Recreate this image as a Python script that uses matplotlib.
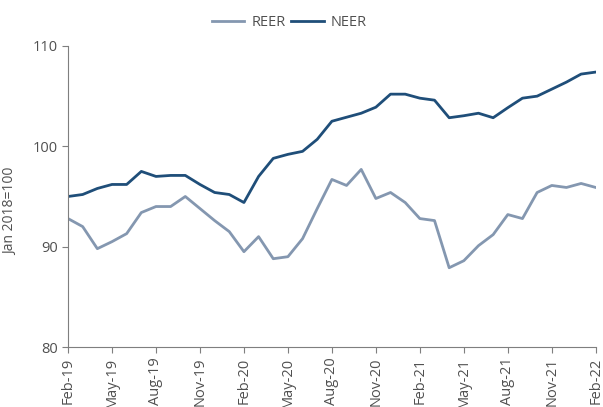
import matplotlib.pyplot as plt
import numpy as np

months = ["Feb-19", "Mar-19", "Apr-19", "May-19", "Jun-19", "Jul-19", "Aug-19", "Sep-19",
          "Oct-19", "Nov-19", "Dec-19", "Jan-20", "Feb-20", "Mar-20", "Apr-20", "May-20",
          "Jun-20", "Jul-20", "Aug-20", "Sep-20", "Oct-20", "Nov-20", "Dec-20", "Jan-21",
          "Feb-21", "Mar-21", "Apr-21", "May-21", "Jun-21", "Jul-21", "Aug-21", "Sep-21",
          "Oct-21", "Nov-21", "Dec-21", "Jan-22", "Feb-22"]
reer = [92.8, 92.0, 89.8, 90.5, 91.3, 93.4, 94.0, 94.0, 95.0, 93.8, 92.6, 91.5, 89.5,
        91.0, 88.8, 89.0, 90.8, 93.8, 96.7, 96.1, 97.7, 94.8, 95.4, 94.4, 92.8, 92.6,
        87.9, 88.6, 90.1, 91.2, 93.2, 92.8, 95.4, 96.1, 95.9, 96.3, 95.9]
neer = [95.0, 95.2, 95.8, 96.2, 96.2, 97.5, 97.0, 97.1, 97.1, 96.2, 95.4, 95.2, 94.4,
        97.0, 98.8, 99.2, 99.5, 100.7, 102.5, 102.9, 103.3, 103.9, 105.2, 105.2, 104.8,
        104.6, 102.85, 103.05, 103.3, 102.85, 103.85, 104.8, 105.0, 105.7, 106.4, 107.2, 107.4]

plt.rcParams['font.family'] = ['Open Sans', 'DejaVu Sans']
txt = "#505050"

fig = plt.figure(figsize=(6.03, 4.07), dpi=100)
ax = fig.add_axes([0.1128, 0.1474, 0.8752, 0.7396])

x = np.arange(len(months))
ax.plot(x, reer, color="#8497b0", lw=2.0, label="REER")
ax.plot(x, neer, color="#1f4e79", lw=2.0, label="NEER")

ax.set_xlim(0, len(months) - 1)
ax.set_ylim(80, 110)
ax.set_yticks([80, 90, 100, 110])
ax.set_xticks(x[::3])
# reference labels run off the bottom edge; kept slightly smaller so they stay readable
ax.set_xticklabels(months[::3], rotation=90, fontsize=10.5)
ax.set_ylabel("Jan 2018=100", fontsize=10, color=txt)
ax.yaxis.set_label_coords(-0.095, 0.45)

for s in ["top", "right"]:
    ax.spines[s].set_visible(False)
for s in ["left", "bottom"]:
    ax.spines[s].set_color("#7f7f7f")
ax.tick_params(axis="both", colors="#7f7f7f", labelcolor=txt, length=4, direction="out")
ax.tick_params(axis="y", labelsize=10.5)

fig.legend(loc="center", bbox_to_anchor=(0.48, 0.945), ncol=2, frameon=False,
           fontsize=10.5, handlelength=2.2, columnspacing=0.4, handletextpad=0.5,
           labelcolor=txt)

fig.savefig("out.png", dpi=100)
